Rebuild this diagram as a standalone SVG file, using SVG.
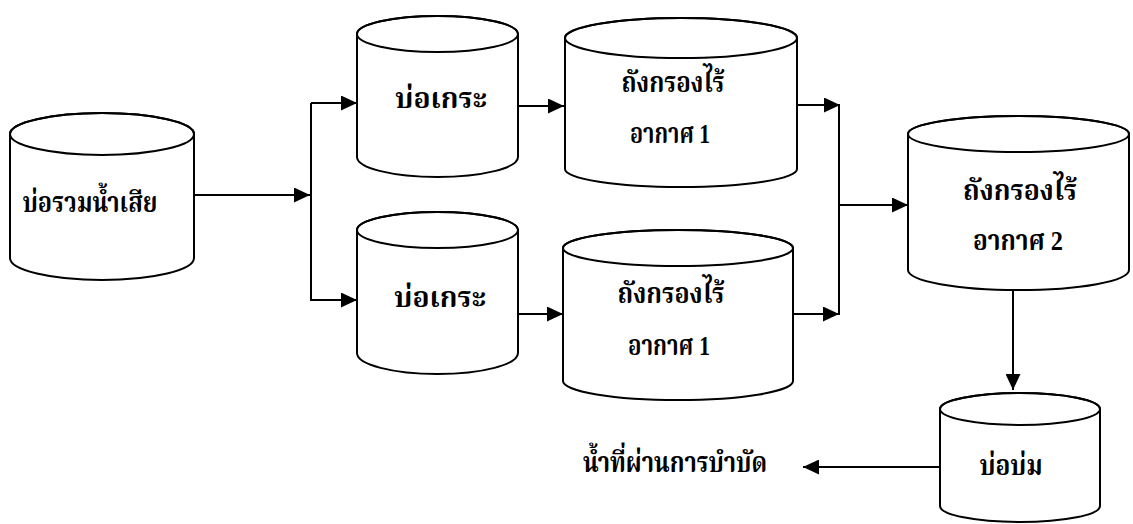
<svg xmlns="http://www.w3.org/2000/svg" width="1133" height="524" viewBox="0 0 1133 524">
<style>
.body{fill:#fff;stroke:#000;stroke-width:2}
.rim{fill:none;stroke:#000;stroke-width:2}
.lbl{font-family:"Liberation Serif","Noto Serif Thai","Noto Sans Thai","Noto Sans",serif;font-size:28px;font-weight:bold;fill:#000;text-anchor:middle}
.ln{fill:none;stroke:#000;stroke-width:2}
</style>
<defs>
<marker id="ah" markerUnits="userSpaceOnUse" markerWidth="17" markerHeight="15" refX="16" refY="7.5" orient="auto">
<path d="M0,0 L16,7.5 L0,15 Z" fill="#000"/>
</marker>
</defs>
<rect width="1133" height="524" fill="#fff"/>
<g id="connectors">
<path class="ln" d="M194,195 H310" marker-end="url(#ah)"/>
<path class="ln" d="M311,103 V301"/>
<path class="ln" d="M311,103 H357" marker-end="url(#ah)"/>
<path class="ln" d="M311,300 H357" marker-end="url(#ah)"/>
<path class="ln" d="M518,106 H564" marker-end="url(#ah)"/>
<path class="ln" d="M518,314 H563" marker-end="url(#ah)"/>
<path class="ln" d="M797,105 H840" marker-end="url(#ah)"/>
<path class="ln" d="M793,314 H839" marker-end="url(#ah)"/>
<path class="ln" d="M839,104 V315"/>
<path class="ln" d="M839,205 H908" marker-end="url(#ah)"/>
<path class="ln" d="M1013,290 V390" marker-end="url(#ah)"/>
<path class="ln" d="M940,467 H803" marker-end="url(#ah)"/>
</g>
<g id="n1">
<path class="body" d="M10,134 V258 A92,22 0 0 0 194,258 V134 A92,21 0 0 0 10,134 Z"/>
<ellipse class="rim" cx="102" cy="134" rx="92" ry="21"/>
<text class="lbl" x="90" y="212" textLength="135" lengthAdjust="spacingAndGlyphs">บ่อรวมน้ำเสีย</text>
</g>
<g id="n2">
<path class="body" d="M357,34 V157 A80.5,20 0 0 0 518,157 V34 A80.5,18 0 0 0 357,34 Z"/>
<ellipse class="rim" cx="437.5" cy="34" rx="80.5" ry="18"/>
<text class="lbl" x="441" y="108" textLength="92" lengthAdjust="spacingAndGlyphs">บ่อเกระ</text>
</g>
<g id="n3">
<path class="body" d="M565,38 V169 A116,18 0 0 0 797,169 V38 A116,20 0 0 0 565,38 Z"/>
<ellipse class="rim" cx="681" cy="38" rx="116" ry="20"/>
<text class="lbl" x="673" y="92" textLength="103" lengthAdjust="spacingAndGlyphs">ถังกรองไร้</text>
<text class="lbl" x="670" y="143" textLength="80" lengthAdjust="spacingAndGlyphs">อากาศ 1</text>
</g>
<g id="n4">
<path class="body" d="M357,230 V353 A80.5,21 0 0 0 518,353 V230 A80.5,18 0 0 0 357,230 Z"/>
<ellipse class="rim" cx="437.5" cy="230" rx="80.5" ry="18"/>
<text class="lbl" x="440" y="307" textLength="92" lengthAdjust="spacingAndGlyphs">บ่อเกระ</text>
</g>
<g id="n5">
<path class="body" d="M563,248 V381 A115,19 0 0 0 793,381 V248 A115,18 0 0 0 563,248 Z"/>
<ellipse class="rim" cx="678" cy="248" rx="115" ry="18"/>
<text class="lbl" x="671" y="303" textLength="107" lengthAdjust="spacingAndGlyphs">ถังกรองไร้</text>
<text class="lbl" x="669" y="355" textLength="82" lengthAdjust="spacingAndGlyphs">อากาศ 1</text>
</g>
<g id="n6">
<path class="body" d="M908,134 V270 A110.5,20 0 0 0 1129,270 V134 A110.5,18 0 0 0 908,134 Z"/>
<ellipse class="rim" cx="1018.5" cy="134" rx="110.5" ry="18"/>
<text class="lbl" x="1020" y="200" textLength="114" lengthAdjust="spacingAndGlyphs">ถังกรองไร้</text>
<text class="lbl" x="1018" y="250" textLength="90" lengthAdjust="spacingAndGlyphs">อากาศ 2</text>
</g>
<g id="n7">
<path class="body" d="M940,409 V506 A80,16 0 0 0 1100,506 V409 A80,16 0 0 0 940,409 Z"/>
<ellipse class="rim" cx="1020" cy="409" rx="80" ry="16"/>
<text class="lbl" x="1011" y="475" textLength="63" lengthAdjust="spacingAndGlyphs">บ่อบ่ม</text>
</g>
<g id="n8">
<text class="lbl" x="675" y="472" textLength="184" lengthAdjust="spacingAndGlyphs">น้ำที่ผ่านการบำบัด</text>
</g>
</svg>
